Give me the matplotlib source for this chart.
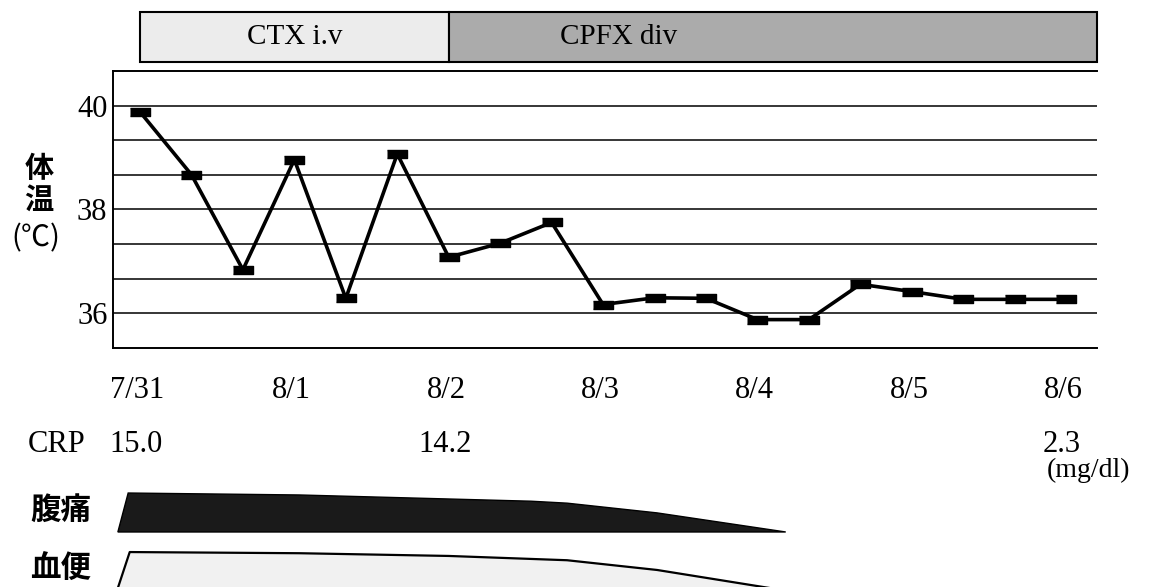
import numpy as np
import matplotlib.pyplot as plt

# ──────────────────────────────────────────────
# Data
# ──────────────────────────────────────────────
# body temperature, 3 readings per day, 7/31 .. 8/6
slots = [0, 1, 2, 3, 4, 5, 6, 7, 8, 9, 10, 11, 12, 13, 14, 15, 16, 17, 18]
temps = [39.88, 38.67, 36.84, 38.96, 36.29, 39.07, 37.08, 37.35, 37.75,
         36.17, 36.30, 36.29, 35.88, 35.88, 36.56, 36.42, 36.27, 36.27, 36.27]

dates     = ["7/31", "8/1", "8/2", "8/3", "8/4", "8/5", "8/6"]
date_slot = [0, 3, 6, 9, 12, 15, 18]

crp_slot = [0, 6, 18]
crp_vals = ["15.0", "14.2", "2.3"]

# antibiotic regimens (slot units)
regimens  = ["CTX i.v", "CPFX div"]
reg_start = [0, 6]
reg_end   = [6, 18.6]
reg_label_x = [3.0, 9.3]

# symptom bands: relative severity along the time axis
pain_x      = [-0.43, -0.23, 3.1, 7.6, 8.3, 10.05, 12.55]
pain_level  = [0.0, 1.0, 0.95, 0.79, 0.74, 0.49, 0.0]
blood_x     = [-0.45, -0.20, 3.1, 6.0, 8.3, 10.05, 12.6]
blood_level = [0.0, 1.0, 0.97, 0.90, 0.79, 0.54, 0.0]

# ──────────────────────────────────────────────
# Style
# ──────────────────────────────────────────────
SERIF = "Liberation Serif"
CJK   = "Noto Sans CJK JP"
XLIM  = (-0.525, 18.6)
YLIM  = (35.333, 40.667)

fig = plt.figure(figsize=(11.52, 5.87), dpi=100)
W, H = 1152, 587

ax_left  = 113 / W
ax_width = (1097 - 113) / W

# ──────────────────────────────────────────────
# Main temperature chart
# ──────────────────────────────────────────────
ax = fig.add_axes([ax_left, (H - 348) / H, ax_width, (348 - 71) / H])
ax.set_xlim(*XLIM)
ax.set_ylim(*YLIM)

ax.set_yticks([36, 38, 40])
ax.set_yticks([36.667, 37.333, 38.667, 39.333], minor=True)
ax.set_yticklabels(["36", "38", "40"], fontfamily=SERIF, fontsize=22)
ax.tick_params(axis="y", which="both", length=0, pad=4)
ax.set_xticks([])
ax.grid(axis="y", which="both", color="black", linewidth=1.1)
ax.set_axisbelow(True)
for side in ["left", "bottom", "top"]:
    ax.spines[side].set_linewidth(1.4)
ax.spines["right"].set_visible(False)

box = [(-1, -0.44), (1, -0.44), (1, 0.44), (-1, 0.44)]
ax.plot(slots, temps, color="black", linewidth=2.6,
        marker=box, markersize=14, markerfacecolor="black",
        markeredgecolor="black", zorder=3)

# date labels and CRP values below the axes
xax = ax.get_xaxis_transform()
for s, d in zip(date_slot, dates):
    ax.text(s - 0.05, -0.155, d, transform=xax, ha="center", va="center",
            fontfamily=SERIF, fontsize=22)
for s, v in zip(crp_slot, crp_vals):
    ax.text(s - 0.08, -0.35, v, transform=xax, ha="center", va="center",
            fontfamily=SERIF, fontsize=22)
fig.text(28 / W, 1 - 445 / H, "CRP", ha="left", va="center",
         fontfamily=SERIF, fontsize=22)
fig.text(1047 / W, 1 - 470 / H, "(mg/dl)", ha="left", va="center",
         fontfamily=SERIF, fontsize=20)

# y label, stacked
fig.text(39 / W, 1 - 168 / H, "体", ha="center", va="center",
         fontfamily=CJK, fontweight="bold", fontsize=21)
fig.text(39 / W, 1 - 200 / H, "温", ha="center", va="center",
         fontfamily=CJK, fontweight="bold", fontsize=21)
fig.text(36 / W, 1 - 238 / H, "(℃)", ha="center", va="center",
         fontfamily=[CJK, "DejaVu Sans"], fontsize=21)

# ──────────────────────────────────────────────
# Treatment bars on top
# ──────────────────────────────────────────────
ax_bar = fig.add_axes([ax_left, (H - 62) / H, ax_width, 50 / H])
ax_bar.set_xlim(*XLIM)
ax_bar.set_ylim(0, 1)
ax_bar.axis("off")
reg_colors = ["#ececec", "#ababab"]
for name, s, e, lx, c in zip(regimens, reg_start, reg_end, reg_label_x, reg_colors):
    ax_bar.barh(0.5, e - s, left=s, height=1.0, color=c,
                edgecolor="black", linewidth=1.5, clip_on=False)
    ax_bar.text(lx, 0.5, name, ha="center", va="center",
                fontfamily=SERIF, fontsize=21)

# ──────────────────────────────────────────────
# Symptom bands at the bottom
# ──────────────────────────────────────────────
ax_sym = fig.add_axes([ax_left, 0, ax_width, 117 / H])
ax_sym.set_xlim(*XLIM)
ax_sym.set_ylim(0.068, 2.05)
ax_sym.axis("off")

BAND_H = 0.66
pain_y = [1.0 + BAND_H * v for v in pain_level]
ax_sym.fill(pain_x, pain_y, color="#1a1a1a", edgecolor="black", linewidth=1.0)

blood_y = [BAND_H * v for v in blood_level]
ax_sym.fill(blood_x, blood_y, color="#f1f1f1", linewidth=0)
ax_sym.plot(blood_x, blood_y, color="black", linewidth=1.6)

fig.text(61 / W, 1 - 510 / H, "腹痛", ha="center", va="center",
         fontfamily=CJK, fontweight="bold", fontsize=22)
fig.text(61 / W, 1 - 569 / H, "血便", ha="center", va="center",
         fontfamily=CJK, fontweight="bold", fontsize=22)

fig.savefig("out.png", dpi=100)
